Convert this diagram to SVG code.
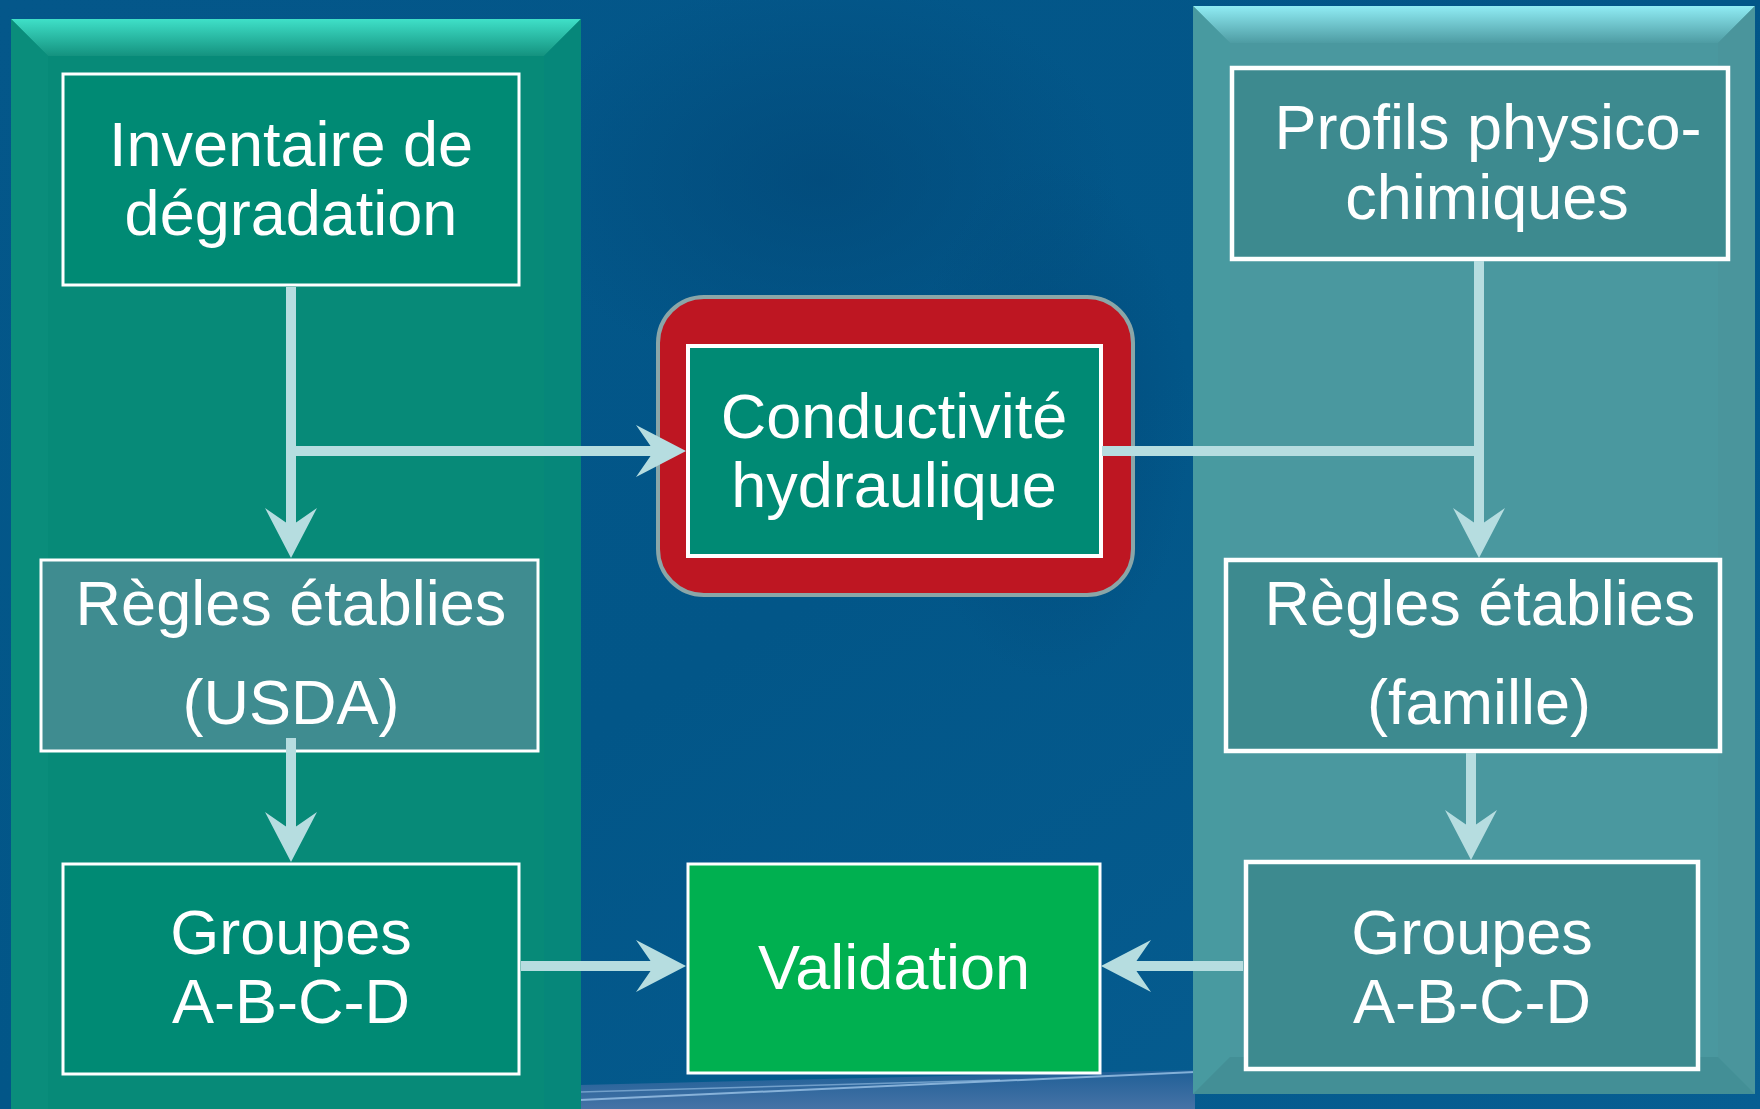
<svg xmlns="http://www.w3.org/2000/svg" width="1760" height="1109" viewBox="0 0 1760 1109">
<defs>
<linearGradient id="bg" x1="0" y1="0" x2="1" y2="1">
<stop offset="0" stop-color="#04578a"/><stop offset="0.5" stop-color="#025688"/><stop offset="1" stop-color="#075e92"/>
</linearGradient>
<radialGradient id="swoosh" cx="0.5" cy="0.5" r="0.5">
<stop offset="0" stop-color="#024a7a" stop-opacity="0.8"/><stop offset="1" stop-color="#024a7a" stop-opacity="0"/>
</radialGradient>
<linearGradient id="ltop" x1="0" y1="0" x2="0" y2="1">
<stop offset="0" stop-color="#3fe0c8"/><stop offset="1" stop-color="#14927f"/>
</linearGradient>
<linearGradient id="rtop" x1="0" y1="0" x2="0" y2="1">
<stop offset="0" stop-color="#90ecf4"/><stop offset="1" stop-color="#4e9ca3"/>
</linearGradient>
<linearGradient id="floor" x1="0" y1="0" x2="0" y2="1">
<stop offset="0" stop-color="#1f5f97"/><stop offset="1" stop-color="#4673a6"/>
</linearGradient>
<marker id="ah" viewBox="-22 -28 56 56" markerWidth="56" markerHeight="56" refX="0" refY="0" orient="auto" markerUnits="userSpaceOnUse">
<path d="M30,0 L-20,-26 L-2,0 L-20,26 Z" fill="#b6dde0"/>
</marker>
<style>
.t{font-family:"Liberation Sans",Arial,sans-serif;font-size:63px;fill:#ffffff;text-anchor:middle}
.c{stroke:#b6dde0;stroke-width:10;fill:none}
.bx{stroke:#ffffff;stroke-width:3}
.bxr{stroke:#ffffff;stroke-width:4.5}
</style>
</defs>
<rect width="1760" height="1109" fill="url(#bg)"/>
<ellipse cx="820" cy="180" rx="300" ry="200" fill="url(#swoosh)"/>
<ellipse cx="1050" cy="420" rx="140" ry="260" fill="url(#swoosh)"/>
<polygon points="580,1085 1195,1070 1195,1109 580,1109" fill="url(#floor)"/>
<path d="M580,1100 L1195,1072" stroke="#9cc4e8" stroke-width="2" opacity="0.8"/>
<path d="M580,1092 L1000,1080" stroke="#9cc4e8" stroke-width="1.5" opacity="0.6"/>

<g id="panel-left">
<rect x="11" y="19" width="570" height="1100" fill="#078a78"/>
<polygon points="11,19 581,19 544,56 48,56" fill="url(#ltop)"/>
<polygon points="11,19 48,56 48,1109 11,1109" fill="#0a8d7b"/>
<polygon points="581,19 544,56 544,1109 581,1109" fill="#06877a"/>
</g>
<g id="panel-right">
<rect x="1193" y="6" width="562" height="1088" fill="#4a989f"/>
<polygon points="1193,6 1755,6 1718,43 1230,43" fill="url(#rtop)"/>
<polygon points="1193,6 1230,43 1230,1057 1193,1094" fill="#489aa0"/>
<polygon points="1755,6 1718,43 1718,1057 1755,1094" fill="#4a959c"/>
<polygon points="1193,1094 1230,1057 1718,1057 1755,1094" fill="#438f96"/>
</g>

<g id="n-inventaire">
<rect class="bx" x="63" y="74" width="456" height="211" fill="#008a74"/>
<text class="t" x="291" y="166">Inventaire de</text>
<text class="t" x="291" y="235">dégradation</text>
</g>
<g id="n-regles-usda">
<rect class="bx" x="41" y="560" width="497" height="191" fill="#3f8c90"/>
<text class="t" x="291" y="625">Règles établies</text>
<text class="t" x="291" y="724">(USDA)</text>
</g>
<g id="n-groupes-left">
<rect class="bx" x="63" y="864" width="456" height="210" fill="#008a74"/>
<text class="t" x="291" y="954">Groupes</text>
<text class="t" x="291" y="1023">A-B-C-D</text>
</g>
<g id="n-conductivite">
<rect x="658" y="297" width="475" height="298" rx="46" fill="#be1622" stroke="#8aa6a8" stroke-width="4"/>
<rect x="688" y="346" width="413" height="210" fill="#008a74" stroke="#ffffff" stroke-width="4"/>
<text class="t" x="894" y="438">Conductivité</text>
<text class="t" x="894" y="507">hydraulique</text>
</g>
<g id="n-validation">
<rect class="bx" x="688" y="864" width="412" height="209" fill="#00b050"/>
<text class="t" x="894" y="989">Validation</text>
</g>
<g id="n-profils">
<rect class="bxr" x="1232" y="68" width="496" height="191" fill="#3d8a8f"/>
<text class="t" x="1488" y="149">Profils physico-</text>
<text class="t" x="1487" y="219">chimiques</text>
</g>
<g id="n-regles-famille">
<rect class="bxr" x="1226" y="560" width="494" height="191" fill="#3d8a8f"/>
<text class="t" x="1480" y="625">Règles établies</text>
<text class="t" x="1479" y="724">(famille)</text>
</g>
<g id="n-groupes-right">
<rect class="bxr" x="1246" y="862" width="452" height="207" fill="#3d8a8f"/>
<text class="t" x="1472" y="954">Groupes</text>
<text class="t" x="1472" y="1023">A-B-C-D</text>
</g>

<g id="connectors">
<path class="c" d="M291,287 V528" marker-end="url(#ah)"/>
<path class="c" d="M291,451 H656" marker-end="url(#ah)"/>
<path class="c" d="M291,738 V832" marker-end="url(#ah)"/>
<path class="c" d="M1102,451 H1479"/>
<path class="c" d="M1479,261 V528" marker-end="url(#ah)"/>
<path class="c" d="M1471,753 V830" marker-end="url(#ah)"/>
<path class="c" d="M521,966 H656" marker-end="url(#ah)"/>
<path class="c" d="M1243,966 H1131" marker-end="url(#ah)"/>
</g>
</svg>
